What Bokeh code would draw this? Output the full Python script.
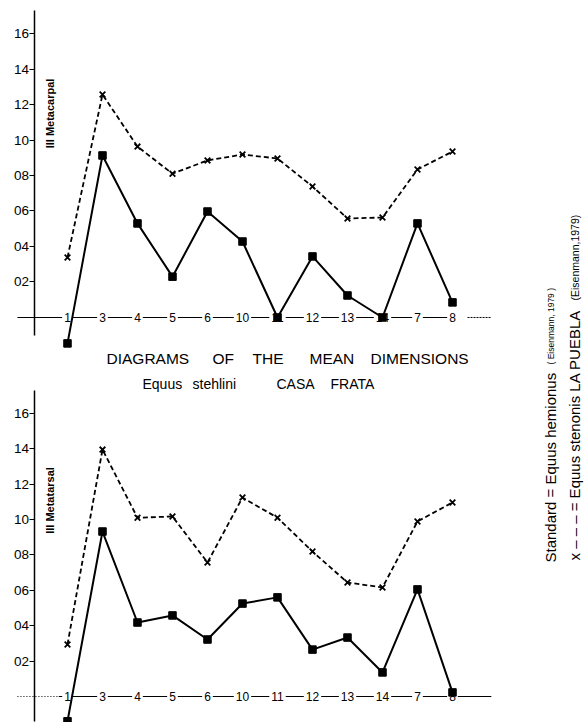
from bokeh.plotting import figure
from bokeh.models import Range1d, LinearAxis, FixedTicker, Label, ColumnDataSource
from bokeh.core.properties import value
from bokeh.embed import file_html
from bokeh.resources import INLINE
from math import pi

# ---- data ----
categories = ["1", "3", "4", "5", "6", "10", "11", "12", "13", "14", "7", "8"]
tick_values = [2, 4, 6, 8, 10, 12, 14, 16]
tick_labels = ["02", "04", "06", "08", "10", "12", "14", "16"]

metacarpal_hemionus = [-1.46, 9.13, 5.3, 2.3, 5.97, 4.28, 0.0, 3.44, 1.24, 0.0, 5.3, 0.85]
metacarpal_stenonis = [3.38, 12.56, 9.63, 8.1, 8.85, 9.18, 8.96, 7.38, 5.58, 5.63, 8.34, 9.35]
metatarsal_hemionus = [-1.4, 9.32, 4.18, 4.58, 3.22, 5.25, 5.6, 2.65, 3.33, 1.36, 6.05, 0.23]
metatarsal_stenonis = [2.94, 13.95, 10.1, 10.17, 7.57, 11.24, 10.1, 8.19, 6.44, 6.16, 9.89, 10.96]

FONT_NAME = "Liberation Sans"
FONT = value(FONT_NAME)
W, H = 586, 722

idx = list(range(len(categories)))

p = figure(width=W, height=H, x_range=Range1d(-1.914, 14.829), y_range=Range1d(0, 1),
           x_axis_type=None, y_axis_type=None, min_border=0,
           toolbar_location=None, output_backend="svg", outline_line_color=None)
p.extra_y_ranges = {"top": Range1d(-22.82, 17.86), "bot": Range1d(-1.469, 39.32)}

panels = [
    ("top", metacarpal_hemionus, metacarpal_stenonis, (-1.0, 17.3)),
    ("bot", metatarsal_hemionus, metatarsal_stenonis, (-1.4, 17.3)),
]

for name, solid, dashed, bounds in panels:
    ax = LinearAxis(y_range_name=name, ticker=FixedTicker(ticks=tick_values),
                    major_label_overrides={float(v): t for v, t in zip(tick_values, tick_labels)},
                    fixed_location=-0.93, bounds=bounds,
                    axis_line_width=1.5, axis_line_color="black",
                    major_tick_line_width=1.2, major_tick_line_color="black",
                    major_tick_out=5, major_tick_in=0,
                    minor_tick_out=0, minor_tick_in=0,
                    major_label_standoff=1,
                    major_label_text_font=FONT_NAME, major_label_text_font_size="13.5px",
                    major_label_text_color="black")
    p.add_layout(ax, "left")

    # baseline
    if name == "top":
        p.line(x=[-1.43, 11.0], y=[0, 0], y_range_name=name, line_color="black", line_width=1.2)
        p.line(x=[11.43, 12.11], y=[0, 0], y_range_name=name, line_color="black",
               line_width=1.0, line_dash="2 1")
    else:
        p.line(x=[-1.43, -0.25], y=[0, 0], y_range_name=name, line_color="black",
               line_width=1.0, line_dash="1 2")
        p.line(x=[-0.25, 12.11], y=[0, 0], y_range_name=name, line_color="black", line_width=1.2)

    src = ColumnDataSource(dict(x=idx, cat=categories, zero=[0] * len(idx),
                                solid=solid, dashed=dashed))
    p.text(x="x", y="zero", text="cat", source=src, y_range_name=name,
           text_font=FONT, text_font_size="12px", text_align="center",
           text_baseline="alphabetic", text_color="black",
           background_fill_color="white", padding=2)

    p.line(x="x", y="dashed", source=src, y_range_name=name, line_color="black",
           line_width=1.8, line_dash="5 3")
    p.scatter(x="x", y="dashed", source=src, y_range_name=name, marker="x",
              size=8, line_color="black", line_width=1.8)
    p.line(x="x", y="solid", source=src, y_range_name=name, line_color="black", line_width=2)
    p.scatter(x="x", y="solid", source=src, y_range_name=name, marker="square",
              size=7.5, fill_color="black", line_color="black")

# y-axis titles (screen units: x from left, y from bottom)
for t, y in [("III Metacarpal", 609), ("III Metatarsal", 222)]:
    p.add_layout(Label(x=49, y=y, x_units="screen", y_units="screen", text=t,
                       angle=pi / 2, text_align="center", text_baseline="middle",
                       text_color="black",
                       text_font=FONT_NAME, text_font_size="11px", text_font_style="bold"))

# central titles (each word placed separately to keep wide spacing)
title_words = [("DIAGRAMS", 106), ("OF", 212), ("THE", 252), ("MEAN", 309), ("DIMENSIONS", 370)]
for w, x in title_words:
    p.add_layout(Label(x=x, y=364, x_units="screen", y_units="screen", text=w,
                       text_color="black",
                       text_font=FONT_NAME, text_font_size="15.5px", text_baseline="alphabetic"))
sub_words = [("Equus", 142), ("stehlini", 192), ("CASA", 276), ("FRATA", 330)]
for w, x in sub_words:
    p.add_layout(Label(x=x, y=339, x_units="screen", y_units="screen", text=w,
                       text_color="black",
                       text_font=FONT_NAME, text_font_size="14px", text_baseline="alphabetic"))

# right-hand legend (rotated, reading upwards)
legend_parts = [
    ("Standard = Equus hemionus", 550, 160, "15px"),
    ("( Eisenmann, 1979 )", 550, 358, "8.5px"),
    ("x \u2013 \u2013 \u2013 = Equus stenonis LA PUEBLA", 574, 162, "15px"),
    ("(Eisenmann,1979)", 574, 422, "10.5px"),
]
for t, x, y, fs in legend_parts:
    p.add_layout(Label(x=x, y=y, x_units="screen", y_units="screen", text=t, angle=pi / 2,
                       text_align="left", text_baseline="middle", text_color="black",
                       text_font=FONT_NAME, text_font_size=fs))

open("out.html", "w").write(file_html(p, INLINE))
